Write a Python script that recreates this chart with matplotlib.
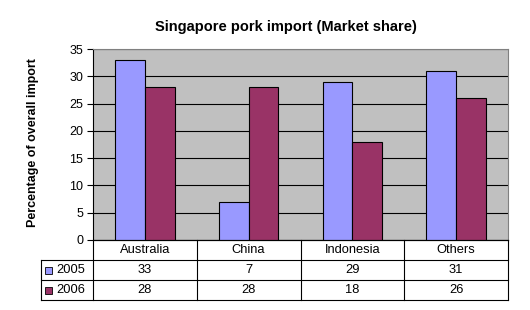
import matplotlib.pyplot as plt
import numpy as np

plt.rcParams["font.family"] = ["Liberation Sans", "DejaVu Sans"]

categories = ["Australia", "China", "Indonesia", "Others"]
series_names = ["2005", "2006"]
share_2005 = [33, 7, 29, 31]
share_2006 = [28, 28, 18, 26]
y_ticks = [0, 5, 10, 15, 20, 25, 30, 35]

colors = ["#9999FF", "#993366"]
W, H = 530, 310

fig = plt.figure(figsize=(W / 100, H / 100), dpi=100, facecolor="white")

# plot area in pixel coordinates
left, right, top, bottom = 93, 508, 49, 240
ax = fig.add_axes([left / W, 1 - bottom / H, (right - left) / W, (bottom - top) / H])
ax.set_facecolor("#C0C0C0")

n = len(categories)
x = np.arange(n)
bw = 1 / 3.5
for i, (vals, c) in enumerate(zip([share_2005, share_2006], colors)):
    ax.bar(x + (i - 0.5) * bw, vals, width=bw, color=c, edgecolor="black",
           linewidth=0.8, zorder=3)

ax.set_xlim(-0.5, n - 0.5)
ax.set_ylim(0, 35)
ax.set_yticks(y_ticks)
ax.set_yticklabels([str(t) for t in y_ticks], fontsize=9)
ax.set_xticks([])
ax.yaxis.grid(True, color="black", linewidth=0.8, zorder=0)
ax.tick_params(axis="y", length=4, width=0.8, pad=3)
for side in ["top", "right"]:
    ax.spines[side].set_color("#808080")
for side in ["left", "bottom"]:
    ax.spines[side].set_color("black")
for s in ax.spines.values():
    s.set_linewidth(0.8)
ax.set_axisbelow(True)

fig.text(286 / W, 1 - 27 / H, "Singapore pork import (Market share)",
         ha="center", va="center", fontsize=10.5, fontweight="bold")
fig.text(33 / W, 1 - 143 / H, "Percentage of overall import",
         rotation=90, ha="center", va="center", fontsize=9, fontweight="bold")

# data table drawn on an overlay in pixel coordinates
ov = fig.add_axes([0, 0, 1, 1], facecolor="none")
ov.set_xlim(0, W)
ov.set_ylim(H, 0)
ov.axis("off")

col_w = (right - left) / n
rows = [240, 260, 280, 300]
lw = 0.8
ov.plot([left, right], [rows[0], rows[0]], color="black", lw=lw)
for yy in rows[1:]:
    ov.plot([41, right], [yy, yy], color="black", lw=lw)
ov.plot([41, 41], [rows[1], rows[3]], color="black", lw=lw)
for k in range(n + 1):
    xx = left + k * col_w
    ov.plot([xx, xx], [rows[0], rows[3]], color="black", lw=lw)

fs = 9.3
for k, cat in enumerate(categories):
    cx = left + (k + 0.5) * col_w
    ov.text(cx, (rows[0] + rows[1]) / 2, cat, ha="center", va="center", fontsize=fs)
    for r, vals in enumerate([share_2005, share_2006]):
        ov.text(cx, (rows[r + 1] + rows[r + 2]) / 2, str(vals[k]),
                ha="center", va="center", fontsize=fs)

for r, (name, c) in enumerate(zip(series_names, colors)):
    cy = (rows[r + 1] + rows[r + 2]) / 2
    ov.add_patch(plt.Rectangle((45, cy - 3.5), 7, 7, facecolor=c,
                               edgecolor="black", lw=0.6))
    ov.text(56, cy, name, ha="left", va="center", fontsize=fs)

fig.savefig("out.png", dpi=100, facecolor="white")
